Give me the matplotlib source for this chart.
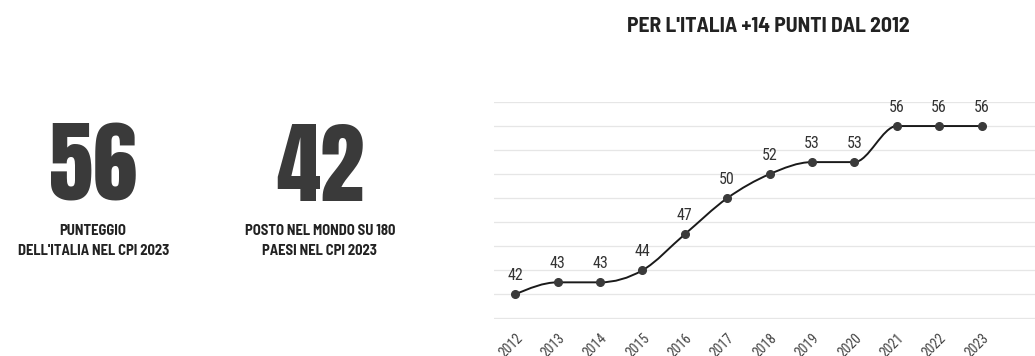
'''
CPI Italia: punteggio 2012-2023 con indicatori principali
'''
import numpy as np
import matplotlib.pyplot as plt
from matplotlib.path import Path
from matplotlib.patches import PathPatch

# data
years = [2012, 2013, 2014, 2015, 2016, 2017, 2018, 2019, 2020, 2021, 2022, 2023]
scores = [42, 43, 43, 44, 47, 50, 52, 53, 53, 56, 56, 56]
big_values = ["56", "42"]
big_captions = ["PUNTEGGIO\nDELL'ITALIA NEL CPI 2023", "POSTO NEL MONDO SU 180\nPAESI NEL CPI 2023"]
title = "PER L'ITALIA +14 PUNTI DAL 2012"

DARK = "#333333"
HEAVY = ["Anton", "DejaVu Sans"]
CAPS = ["Barlow Semi Condensed", "Barlow Condensed", "DejaVu Sans"]
TITLE = ["Barlow Semi Condensed", "Barlow Condensed", "Roboto Condensed", "DejaVu Sans"]
LABEL = ["Roboto Condensed", "Barlow Condensed", "Roboto", "DejaVu Sans"]


def monotone_path(x, y):
    # monotone cubic (like d3 curveMonotoneX) as bezier segments
    x = np.asarray(x, float)
    y = np.asarray(y, float)
    h = np.diff(x)
    s = np.diff(y) / h
    m = np.zeros_like(y)
    for i in range(1, len(y) - 1):
        p = (s[i - 1] * h[i] + s[i] * h[i - 1]) / (h[i - 1] + h[i])
        m[i] = (np.sign(s[i - 1]) + np.sign(s[i])) * min(abs(s[i - 1]), abs(s[i]), 0.5 * abs(p))
    m[0] = (3 * s[0] - m[1]) / 2
    m[-1] = (3 * s[-1] - m[-2]) / 2
    verts = [(x[0], y[0])]
    codes = [Path.MOVETO]
    for i in range(len(x) - 1):
        d = h[i] / 3
        verts += [(x[i] + d, y[i] + m[i] * d), (x[i + 1] - d, y[i + 1] - m[i + 1] * d), (x[i + 1], y[i + 1])]
        codes += [Path.CURVE4] * 3
    return Path(verts, codes)


fig = plt.figure(figsize=(10.35, 3.56), dpi=100)

# big numbers on the left
for xc, val, cap in zip([0.09, 0.309], big_values, big_captions):
    fig.text(xc, 0.436, val, ha="center", va="baseline", fontsize=64,
             family=HEAVY, color="#3a3a3a")
    fig.text(xc, 0.372, cap, ha="center", va="top", fontsize=10.5, fontweight="bold",
             family=CAPS, color="#222222", linespacing=1.6)

fig.text(0.742, 0.91, title, ha="center", va="baseline", fontsize=15.5, fontweight="bold",
         family=TITLE, color="#222222")

# line chart
ax = fig.add_axes([0.4773, 0.1039, 0.5227, 0.6096])
ax.set_xlim(2011.5, 2024.26)
ax.set_ylim(39.95, 58)
ax.set_yticks(np.arange(40, 59, 2))
ax.grid(axis="y", color="#e6e6e6", linewidth=0.9)
ax.set_axisbelow(True)
for sp in ax.spines.values():
    sp.set_visible(False)
ax.tick_params(axis="y", left=False, labelleft=False)
ax.tick_params(axis="x", length=0, pad=9)
ax.set_xticks(years)
ax.set_xticklabels([str(y) for y in years], rotation=45, ha="right", rotation_mode="anchor",
                   fontsize=10, color="#444444", family=LABEL)

ax.add_patch(PathPatch(monotone_path(years, scores), facecolor="none", edgecolor="#1a1a1a",
                       linewidth=1.4, clip_on=False))
ax.plot(years, scores, "o", color="#3a3a3a", markersize=5.5, clip_on=False, zorder=3)
for yr, sc in zip(years, scores):
    ax.annotate(str(sc), (yr, sc), xytext=(0, 8), textcoords="offset points", ha="center",
                va="bottom", fontsize=11.5, color=DARK, family=LABEL)

fig.savefig("out.png", dpi=100)
